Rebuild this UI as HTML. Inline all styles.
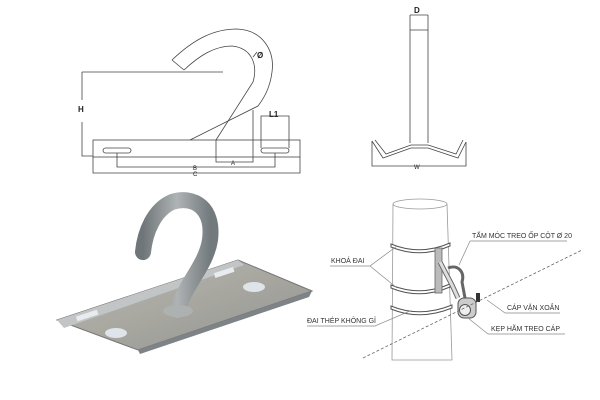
<!DOCTYPE html>
<html><head><meta charset="utf-8"><style>
html,body{margin:0;padding:0;background:#fff;width:600px;height:400px;overflow:hidden}
svg{display:block}
text{font-family:"Liberation Sans","Noto Sans CJK SC",sans-serif}
</style></head><body>
<svg width="600" height="400" viewBox="0 0 600 400" xmlns="http://www.w3.org/2000/svg">
<defs>
<linearGradient id="pl" x1="0" y1="0" x2="1" y2="1">
<stop offset="0" stop-color="#b7babb"/><stop offset="0.5" stop-color="#a8a79f"/><stop offset="1" stop-color="#8f9496"/>
</linearGradient>
<linearGradient id="hk" x1="0" y1="0" x2="1" y2="0">
<stop offset="0" stop-color="#6f7679"/><stop offset="0.5" stop-color="#aeb3b4"/><stop offset="1" stop-color="#737a7d"/>
</linearGradient>
</defs>
<!-- top-left technical drawing -->
<g fill="none" stroke="#444" stroke-width="0.8">
<path d="M172,60 C195,38 215,29 237,29 C262,30 275,50 272,72 C270,88 264,98 258,106 L190,140"/>
<path d="M184,70 C200,55 215,46 232,46 C252,48 258,65 253,82 L216,140"/>
<path d="M172,60 L184,70"/>
<rect x="93" y="140" width="207" height="17"/>
<rect x="103" y="148" width="28" height="5" rx="2.5"/>
<rect x="261" y="148" width="28" height="5" rx="2.5"/>
<path d="M82,72 L223,72 M82,72 L82,100 M82,122 L82,156 L93,156"/>
<path d="M261,148 L261,116 L289,116 L289,148"/>
<path d="M216,140 L216,162 L253,162 L253,110"/>
<path d="M117,153 L117,167 L275,167 L275,153"/>
<path d="M93,157 L93,173 L300,173 L300,157"/>
<path d="M253,57 L257,52"/>
</g>
<g font-family="Liberation Serif,serif" font-size="8" fill="#222">
<text x="78" y="112" font-weight="bold">H</text>
<text x="269" y="117" font-weight="bold">L1</text>
<text x="257" y="58" font-weight="bold">Ø</text>
<text x="231" y="165" font-size="6">A</text>
<text x="193" y="170" font-size="6">B</text>
<text x="193" y="176" font-size="6">C</text>
</g>
<!-- top-right drawing -->
<g fill="none" stroke="#444" stroke-width="0.8">
<path d="M410,15 L410,143 M428,15 L428,143 M410,30 L428,30"/>
<path d="M410,15 L428,15"/>
<path d="M372,141 L383,158 L411,148 L428,148 L458,158 L466,142"/>
<path d="M375,140 L386,154 L411,145 L428,145 L456,154 L463,140"/>
<path d="M372,141 L372,166 L466,166 L466,142"/>
</g>
<text x="414" y="13" font-family="Liberation Serif,serif" font-size="8" font-weight="bold" fill="#222">D</text>
<text x="414" y="169" font-family="Liberation Serif,serif" font-size="6" fill="#222">W</text>
<!-- photo -->
<polygon points="57,320 238,260 312,291 138,350" fill="url(#pl)" stroke="#777" stroke-width="1"/>
<polygon points="57,320 238,260 244,265 64,328" fill="#c2c5c6"/>
<polygon points="138,350 312,291 309,297 140,354" fill="#7d8386"/>
<ellipse cx="116" cy="333" rx="11" ry="5" fill="#dfe4ea"/>
<ellipse cx="254" cy="287" rx="11" ry="5" fill="#dfe4ea"/>
<rect x="76" y="313" width="22" height="5" fill="#e8ecef" transform="rotate(-18 87 315)"/>
<rect x="214" y="270" width="20" height="5" fill="#e8ecef" transform="rotate(-18 224 272)"/>
<path d="M178,310 C184,285 206,266 210,240 C214,208 194,195 172,202 C154,210 145,232 143,252" fill="none" stroke="url(#hk)" stroke-width="16" stroke-linecap="round"/>
<ellipse cx="178" cy="311" rx="15" ry="6" fill="#aeb1b1"/>
<!-- bottom-right diagram -->
<g fill="none" stroke="#999" stroke-width="0.8">
<ellipse cx="420" cy="204" rx="27" ry="5" fill="#fff"/>
<path d="M393,204 L392,360 L452,360 L447,204"/>
</g>
<g fill="#fff" stroke="#555" stroke-width="1">
<path d="M391,244 Q420,256 450,243 L450,246 Q420,259 391,247 Z"/>
<path d="M391,285 Q420,297 450,284 L450,287 Q420,300 391,288 Z"/>
<path d="M391,306 Q420,318 452,305 L452,308 Q420,321 391,309 Z"/>
</g>
<rect x="435" y="248" width="7" height="45" fill="#bbb" stroke="#666" stroke-width="0.8"/>
<path d="M440,262 L452,285 L458,298" fill="none" stroke="#666" stroke-width="5"/>
<path d="M440,262 L452,285 L458,298" fill="none" stroke="#ddd" stroke-width="3"/>
<path d="M448,268 C458,264 465,272 462,282 L465,298" fill="none" stroke="#666" stroke-width="3"/>
<rect x="458" y="298" width="18" height="20" rx="6" fill="#ccc" stroke="#555"/>
<circle cx="465" cy="310" r="5.5" fill="#eee" stroke="#555"/>
<rect x="476" y="293" width="4" height="9" fill="#333"/>
<path d="M363,358 L582,250" stroke="#666" stroke-width="0.8" stroke-dasharray="3,2" fill="none"/>
<g stroke="#888" stroke-width="0.7" fill="none">
<path d="M470,241 L567,241 M470,241 L459,265"/>
<path d="M330,266 L370,266 L397,246 M370,266 L397,288"/>
<path d="M307,326 L375,326 L410,311"/>
<path d="M505,313 L560,313 M505,313 L487,300"/>
<path d="M488,334 L565,334 M488,334 L468,318"/>
</g>
<g font-size="7" fill="#333">
<text x="472" y="238">TẤM MÓC TREO ỐP CỘT Ø 20</text>
<text x="331" y="263">KHOÁ ĐAI</text>
<text x="307" y="323">ĐAI THÉP KHÔNG GỈ</text>
<text x="507" y="310">CÁP VẶN XOẮN</text>
<text x="491" y="331">KẸP HÃM TREO CÁP</text>
</g>
</svg>
</body></html>
